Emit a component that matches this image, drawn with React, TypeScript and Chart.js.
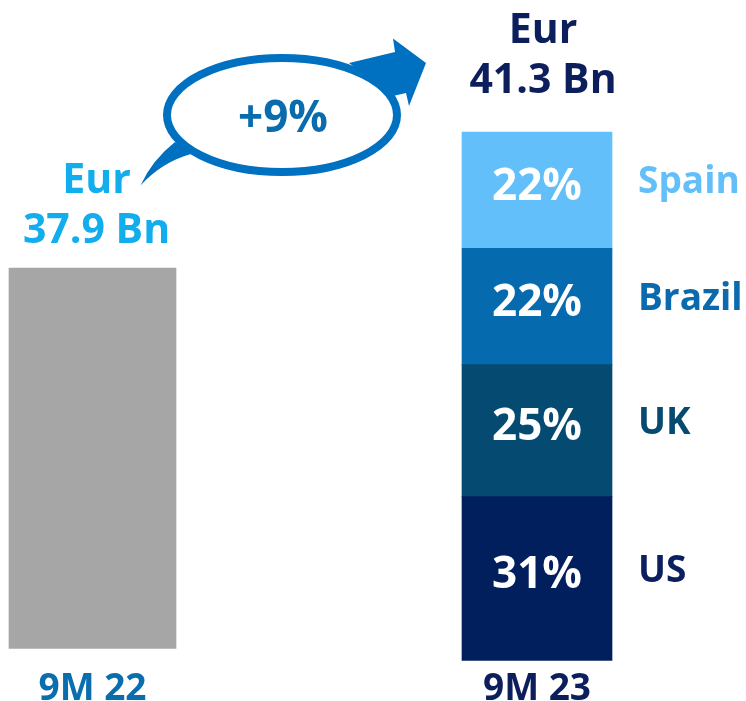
import React, { useEffect, useRef } from "react";
import { Chart, registerables } from "chart.js";

Chart.register(...registerables);

// ---- data ----
const categories = ["9M 22", "9M 23"];
const totalsBn = [37.9, 41.3]; // Eur Bn
const regions = ["US", "UK", "Brazil", "Spain"];
const regionShares = [31, 25, 22, 22]; // % of 9M 23
const growthLabel = "+9%";

// ---- styles ----
const FONT = "'Open Sans', 'Noto Sans', sans-serif";
const grayColor = "#A6A6A6";
const regionColors = ["#021F5D", "#054A71", "#066BAE", "#63BFFA"];
const regionTextColors = ["#0C1F5E", "#064A70", "#0A6AAD", "#63BFFA"];
const totalTextColors = ["#12ADEC", "#0C1F5C"];
const tickColors = ["#0A6DAE", "#0C1F5C"];
const arrowColor = "#0070C0";
const growthColor = "#0B6CAD";
const totalLabelLift = [40, 54];

function drawCap(ctx: CanvasRenderingContext2D, text: string, x: number, capCenterY: number, size: number, color: string, align: CanvasTextAlign) {
  ctx.save();
  ctx.font = `bold ${size}px ${FONT}`;
  ctx.fillStyle = color;
  ctx.textAlign = align;
  ctx.textBaseline = "alphabetic";
  ctx.fillText(text, x, capCenterY + 0.357 * size);
  ctx.restore();
}

const labelsPlugin = {
  id: "labelsPlugin",
  afterDatasetsDraw(chart: any) {
    const ctx: CanvasRenderingContext2D = chart.ctx;
    // total labels above bars
    const leftBar = chart.getDatasetMeta(0).data[0];
    const topMeta = chart.getDatasetMeta(regions.length);
    const rightTop = topMeta.data[1];
    const tops = [
      { x: leftBar.x + 4, y: leftBar.y },
      { x: rightTop.x + 6, y: rightTop.y },
    ];
    tops.forEach((t, i) => {
      const base = t.y - totalLabelLift[i];
      drawCap(ctx, `${totalsBn[i].toFixed(1)} Bn`, t.x, base, 41, totalTextColors[i], "center");
      drawCap(ctx, "Eur", t.x, base - 50, 41, totalTextColors[i], "center");
    });

    // segment labels
    regions.forEach((r, i) => {
      const el = chart.getDatasetMeta(i + 1).data[1];
      const mid = (el.y + el.base) / 2;
      drawCap(ctx, `${regionShares[i]}%`, el.x, mid - 6, 44, "#FFFFFF", "center");
      drawCap(ctx, r, el.x + el.width / 2 + 26, mid - 10, 37, regionTextColors[i], "left");
    });

    // growth ellipse + arrow
    const cx = 282, cy = 115;
    ctx.save();
    ctx.fillStyle = arrowColor;
    ctx.strokeStyle = arrowColor;
    // tail
    ctx.beginPath();
    ctx.moveTo(175, 142);
    ctx.quadraticCurveTo(152, 160, 140.5, 185.5);
    ctx.quadraticCurveTo(162, 162, 191, 154);
    ctx.closePath();
    ctx.fill();
    // head
    ctx.beginPath();
    ctx.moveTo(349, 63);
    ctx.lineTo(395, 52);
    ctx.lineTo(393, 38.5);
    ctx.lineTo(426, 63);
    ctx.lineTo(409, 106);
    ctx.lineTo(406, 93);
    ctx.lineTo(393, 96);
    ctx.closePath();
    ctx.fill();
    // ellipse ring
    ctx.lineWidth = 8;
    ctx.beginPath();
    ctx.ellipse(cx, cy, 115, 57, 0, 0, Math.PI * 2);
    ctx.fillStyle = "#FFFFFF";
    ctx.fill();
    ctx.stroke();
    ctx.restore();
    drawCap(ctx, growthLabel, cx + 1, cy + 1, 44, growthColor, "center");
  },
};

export default function App() {
  const ref = useRef<HTMLCanvasElement | null>(null);
  useEffect(() => {
    if (!ref.current) return;
    const datasets: any[] = [
      {
        label: categories[0],
        data: [totalsBn[0], null],
        backgroundColor: grayColor,
        yAxisID: "yL",
        stack: "s",
        barThickness: 167,
        clip: false,
      },
      ...regions.map((r, i) => ({
        label: r,
        data: [null, regionShares[i]],
        backgroundColor: regionColors[i],
        yAxisID: "yR",
        stack: "s",
        barThickness: 150,
        clip: false,
      })),
    ];
    const chart = new Chart(ref.current, {
      type: "bar",
      data: { labels: categories, datasets },
      plugins: [labelsPlugin],
      options: {
        responsive: false,
        animation: false,
        layout: { padding: { left: 92.5, right: 209, top: 0, bottom: -17.5 } },
        plugins: { legend: { display: false }, tooltip: { enabled: false } },
        scales: {
          x: {
            stacked: true,
            offset: false,
            grid: { display: false, drawTicks: false },
            border: { display: false },
            ticks: {
              padding: 17,
              font: { family: FONT, size: 37, weight: "bold", lineHeight: 0.65 },
              color: (c: any) => tickColors[c.index] || tickColors[0],
              maxRotation: 0,
              autoSkip: false,
            },
          },
          yL: {
            stacked: true,
            display: false,
            min: -1.2,
            max: 64.63,
          },
          yR: {
            stacked: true,
            display: false,
            min: 0,
            max: 125,
          },
        },
      } as any,
    });
    return () => chart.destroy();
  }, []);
  return (
    <div style={{ position: "fixed", left: 0, top: 0, width: 746, height: 701, background: "#fff" }}>
      <canvas ref={ref} width={746} height={701} style={{ display: "block" }} />
    </div>
  );
}
